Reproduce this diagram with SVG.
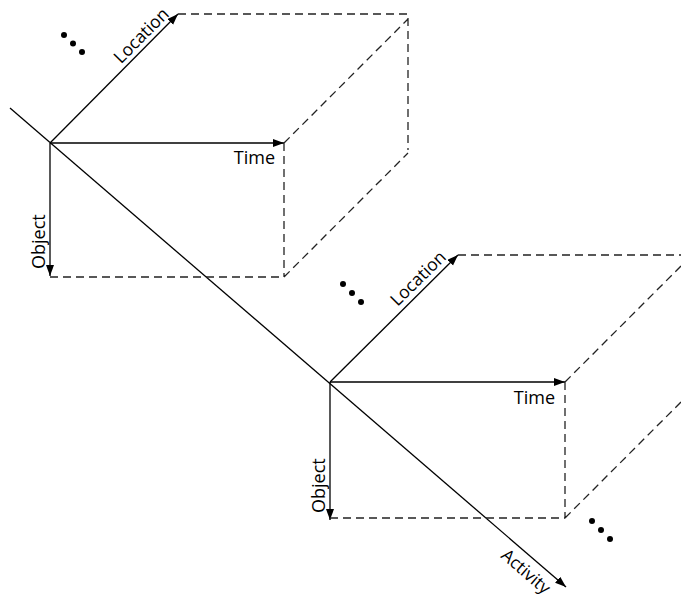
<svg xmlns="http://www.w3.org/2000/svg" width="681" height="600" viewBox="0 0 681 600">
<defs>
<marker id="arr" markerUnits="userSpaceOnUse" markerWidth="12" markerHeight="9" refX="11" refY="4" orient="auto">
<path d="M0,0 L11,4 L0,8 z" fill="#000"/>
</marker>
<style>
.ax{stroke:#000;stroke-width:1.3;fill:none;marker-end:url(#arr)}
.ln{stroke:#000;stroke-width:1.3;fill:none}
.ds{stroke:#222;stroke-width:1.3;fill:none;stroke-dasharray:8 5}
.lb{font-family:"Open Sans","Noto Sans",sans-serif;font-size:18px;fill:#000}
.dot{fill:#000}
</style>
</defs>
<rect width="681" height="600" fill="#fff"/>
<g id="connectors">
<line class="ln" x1="10" y1="108" x2="50" y2="142.5"/>
<line class="ax" x1="50" y1="142.5" x2="566" y2="587"/>
<line class="ax" x1="50" y1="143" x2="178" y2="14"/>
<line class="ax" x1="50" y1="143" x2="284" y2="143"/>
<line class="ax" x1="50" y1="143" x2="50" y2="276"/>
<line class="ax" x1="330" y1="382" x2="458" y2="255"/>
<line class="ax" x1="330" y1="382" x2="565" y2="382"/>
<line class="ax" x1="330" y1="382" x2="330" y2="520"/>
</g>
<g id="cube1">
<path class="ds" d="M178,14 H408 V150 M284,143 L408,19 M284,277 L408,153 M284,143 V277 M50,277 H284"/>
<text class="lb" style="font-size:17.5px" transform="translate(121,64.5) rotate(-45.2)">Location</text>
<text class="lb" text-anchor="end" x="275" y="164">Time</text>
<text class="lb" transform="translate(44.5,269) rotate(-90)">Object</text>
<circle class="dot" cx="64" cy="35" r="3"/>
<circle class="dot" cx="73" cy="43.5" r="3"/>
<circle class="dot" cx="82" cy="52" r="3"/>
</g>
<g id="cube2">
<path class="ds" d="M458,255 H681 M565,382 L690,257 M565,518 L690,393 M565,382 V518 M330,518 H565"/>
<text class="lb" style="font-size:17.5px" transform="translate(397.5,307) rotate(-44.5)">Location</text>
<text class="lb" text-anchor="end" x="555" y="404">Time</text>
<text class="lb" transform="translate(324.5,513) rotate(-90)">Object</text>
<circle class="dot" cx="343" cy="284" r="3"/>
<circle class="dot" cx="352" cy="293" r="3"/>
<circle class="dot" cx="361" cy="302" r="3"/>
</g>
<g id="activity">
<text class="lb" style="font-size:17.5px" transform="translate(500,557) rotate(40.8)">Activity</text>
<circle class="dot" cx="592" cy="521" r="3"/>
<circle class="dot" cx="601" cy="530" r="3"/>
<circle class="dot" cx="610" cy="539" r="3"/>
</g>
</svg>
